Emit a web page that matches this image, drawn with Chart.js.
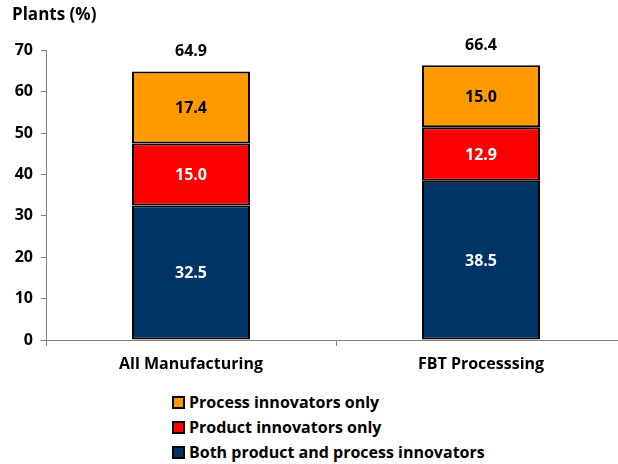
<!DOCTYPE html>
<html>
<head>
<meta charset="utf-8">
<script src="https://cdn.jsdelivr.net/npm/chart.js@4.4.1/dist/chart.umd.min.js"></script>
<style>
  html, body { margin: 0; padding: 0; background: #fff; overflow: hidden; }
  #wrap { position: relative; width: 618px; height: 464px; overflow: hidden; }
  #box { position: absolute; left: 0; top: 0; width: 630px; height: 380px; }
  #legend { position: absolute; left: 172px; top: 391px; font: bold 16px "Open Sans", sans-serif; color: #000; }
  #legend div { height: 25px; line-height: 23px; white-space: nowrap; }
  #legend span { display: inline-block; width: 9px; height: 9px; border: 2px solid #000; margin-right: 4px; vertical-align: -1px; }
</style>
</head>
<body>
<div id="wrap">
  <div id="box"><canvas id="mychart"></canvas></div>
  <div id="legend"></div>
</div>
<script>
"use strict";
const CATEGORIES = ["All Manufacturing", "FBT Processsing"];
const BOTH = [32.5, 38.5];
const PRODUCT_ONLY = [15.0, 12.9];
const PROCESS_ONLY = [17.4, 15.0];
const TOTALS = [64.9, 66.4];
const Y_TICKS = [0, 10, 20, 30, 40, 50, 60, 70];

const FONT = "Open Sans";

(function() {
    const chart = document.getElementById("mychart");

    const datasets = [
        {label: "Both product and process innovators", data: BOTH, backgroundColor: "#003366", textColor: "#fff"},
        {label: "Product innovators only", data: PRODUCT_ONLY, backgroundColor: "#ff0000", textColor: "#fff"},
        {label: "Process innovators only", data: PROCESS_ONLY, backgroundColor: "#ff9900", textColor: "#000"}
    ];
    datasets.forEach(d => {
        d.borderColor = "#000";
        d.borderWidth = 2;
        d.borderSkipped = false;
        d.barPercentage = 0.407;
        d.categoryPercentage = 1;
    });

    // legend in reverse stack order, like the original
    const legend = document.getElementById("legend");
    datasets.slice().reverse().forEach(d => {
        const row = document.createElement("div");
        const sw = document.createElement("span");
        sw.style.background = d.backgroundColor;
        row.appendChild(sw);
        row.appendChild(document.createTextNode(d.label));
        legend.appendChild(row);
    });

    // value labels inside segments and totals on top
    const barLabels = {
        id: "barLabels",
        afterDatasetsDraw(c) {
            const ctx = c.ctx;
            ctx.save();
            ctx.font = "bold 16px '" + FONT + "'";
            ctx.textAlign = "center";
            ctx.textBaseline = "middle";
            c.data.datasets.forEach((ds, i) => {
                const meta = c.getDatasetMeta(i);
                meta.data.forEach((bar, j) => {
                    ctx.fillStyle = ds.textColor;
                    ctx.fillText(ds.data[j].toFixed(1), bar.x, (bar.y + bar.base) / 2 + 1);
                });
            });
            const top = c.getDatasetMeta(c.data.datasets.length - 1);
            ctx.fillStyle = "#000";
            top.data.forEach((bar, j) => {
                ctx.fillText(TOTALS[j].toFixed(1), bar.x, c.scales.y.getPixelForValue(TOTALS[j]) - 20);
            });
            ctx.restore();
        }
    };

    new Chart(chart, {
        type: "bar",
        data: {labels: CATEGORIES, datasets: datasets},
        plugins: [barLabels],
        options: {
            responsive: true,
            maintainAspectRatio: false,
            animation: false,
            layout: {padding: {left: 12, right: 4, top: 0, bottom: 0}},
            plugins: {
                legend: {display: false},
                tooltip: {enabled: false},
                title: {
                    display: true,
                    text: "Plants (%)",
                    align: "start",
                    color: "#000",
                    font: {family: FONT, size: 17, weight: "bold"},
                    padding: {top: 5, bottom: 25}
                }
            },
            scales: {
                x: {
                    stacked: true,
                    afterFit: s => { s.height = 40; },
                    border: {color: "#7f7f7f", width: 1},
                    grid: {offset: true, drawOnChartArea: false, color: "#7f7f7f", tickLength: 6},
                    ticks: {color: "#000", padding: 9, font: {family: FONT, size: 16, weight: "bold"}}
                },
                y: {
                    stacked: true,
                    min: 0,
                    max: 70,
                    afterFit: s => { s.width = 34; },
                    afterBuildTicks: s => { s.ticks = Y_TICKS.map(v => ({value: v})); },
                    border: {color: "#7f7f7f", width: 1},
                    grid: {drawOnChartArea: false, color: "#7f7f7f", tickLength: 5},
                    ticks: {color: "#000", padding: 8, font: {family: FONT, size: 16, weight: "bold"}}
                }
            }
        }
    });
})();
</script>
</body>
</html>
